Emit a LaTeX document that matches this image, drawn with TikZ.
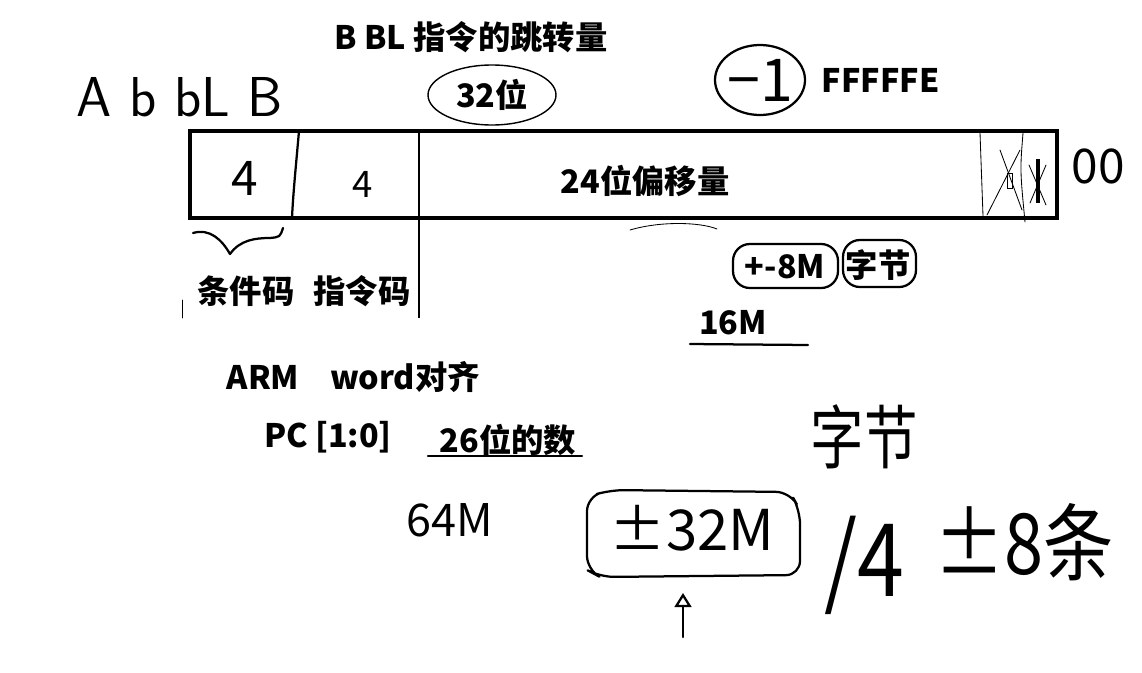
\documentclass[tikz,border=0pt]{standalone}
\usepackage{fontspec}
\newfontfamily\cjk{Noto Sans CJK SC}
\usetikzlibrary{positioning,arrows.meta,calc}

\tikzset{
  typed/.style={font=\cjk\bfseries\fontsize{23}{26}\selectfont, inner sep=0pt},
  hand/.style={font=\cjk\fontsize{#1}{#1}\selectfont, inner sep=0pt},
  hand/.default=30,
  pen/.style={line width=1.6pt, line cap=round, line join=round},
  hair/.style={line width=0.6pt, line cap=round},
}

\begin{document}
\begin{tikzpicture}[x=0.025cm, y=-0.025cm]
  \useasboundingbox (0,0) rectangle (1142,672);

  % title and the top notes
  \node[typed] (title) at (471,37) {B BL 指令的跳转量};
  \node[typed] (bits) at (492,95) {32位};
  \draw[line width=1pt] (bits) ellipse (64 and 30);
  \node[hand=42] (minus) at (760,80) {−1};
  \draw[pen] (minus) ellipse (45 and 35);
  \node[typed, right=20pt of minus] (ffe) {FFFFFE};
  \node[font=\sffamily\fontsize{40}{40}\selectfont, inner sep=0pt] (abl) at (180,97) {A b bL B};

  % the instruction word
  \coordinate (nw) at (190,131);
  \coordinate (se) at (1057,218);
  \draw[line width=3pt] (nw) rectangle (se);
  \draw[pen] (299,131) .. controls (296,165) and (293,195) .. (292,218);
  \draw[line width=0.9pt] (419,131) -- (419,318);
  \node[hand=34] (cond) at (245,178) {4};
  \node[hand=26] (opc) at (363,184) {4};
  \node[typed] (offset) at (645,181) {24位偏移量};

  % the two low bits
  \draw[hair] (980,133) -- (983,216);
  \draw[hair] (1023,133) .. controls (1020,170) .. (1025,222);
  \draw[hair] (1000,150) -- (1022,210);
  \draw[hair] (1020,150) -- (987,215);
  \draw[hair] (1007,173) rectangle (1012,188);
  \draw[hair] (1029,165) -- (1046,205);
  \draw[hair] (1046,165) -- (1030,203);
  \draw[line width=2.4pt] (1038,159) -- (1038,203);
  \node[hand=34] (zeros) at (1098,166) {00};

  % the field names
  \draw[pen] (193,233) .. controls (210,228) and (222,240) .. (230,254)
    .. controls (240,240) and (255,238) .. (270,238) .. controls (280,237) .. (283,228);
  \node[typed] (condname) at (246,291) {条件码};
  \node[typed] (opcname) at (362,291) {指令码};
  \draw[hair] (182,300) -- (182,318);
  \draw[hair] (630,230) .. controls (660,221) and (700,222) .. (717,229);

  % the range of the offset
  \node[typed] (range) at (785,267) {+-8M};
  \draw[pen, rounded corners=12pt] (733,244) rectangle (838,288);
  \node[typed] (byte) at (878,265) {字节};
  \draw[pen, rounded corners=12pt] (843,240) rectangle (916,287);
  \node[typed] (span) at (733,323) {16M};
  \draw[pen] (690,344) -- (808,345);

  % word alignment
  \node[typed] (arm) at (263,377) {ARM};
  \node[typed] (word) at (405,377) {word对齐};
  \node[typed] (pc) at (328,437) {PC [1:0]};
  \node[typed] (num) at (508,440) {26位的数};
  \draw[pen] (428,456) -- (582,456);

  % the handwritten sums
  \node[hand=38, yscale=1.3] (hbyte) at (864,437) {字节};
  \node[hand=32] (whole) at (450,520) {64M};
  \node[hand=40] (signed) at (692,528) {±32M};
  \draw[pen, rounded corners=10pt] (587,497) -- (610,490) -- (790,492) -- (800,510)
    -- (800,575) -- (600,577) -- (587,570) -- cycle;
  \coordinate (foot) at (683,637);
  \draw[pen, -{Triangle[open, length=10pt, width=12pt]}] (foot) -- (683,593);
  \node[hand=60, yscale=1.2] (quarter) at (864,565) {/4};
  \node[hand=50, yscale=1.2] (count) at (1024,542) {±8条};
\end{tikzpicture}
\end{document}
